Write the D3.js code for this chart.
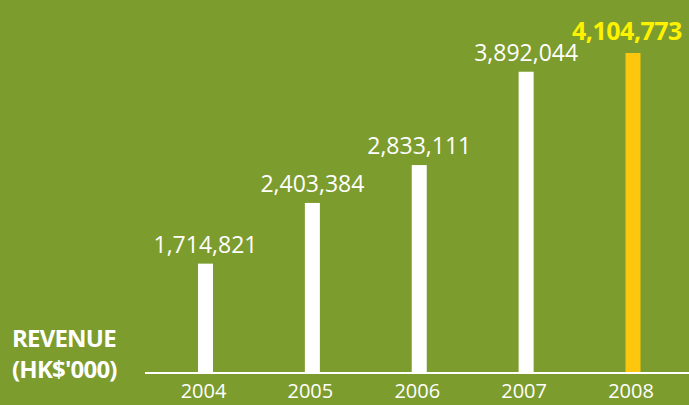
<!DOCTYPE html>
<html>
<head>
<meta charset="utf-8">
<script src="https://cdn.jsdelivr.net/npm/d3@7"></script>
<style>
  html, body { margin: 0; padding: 0; background: #7d9c2e; overflow: hidden; }
  svg { display: block; font-family: "Open Sans", "Noto Sans", sans-serif; }
</style>
</head>
<body>
<div id="chart"></div>
<script>
const years = ["2004", "2005", "2006", "2007", "2008"];
const revenue = [1714821, 2403384, 2833111, 3892044, 4104773];
const axisTitle = ["REVENUE", "(HK$'000)"];

const width = 689;
const height = 405;
const baseline = 373;

const svg = d3.select("#chart")
  .append("svg")
  .attr("width", width)
  .attr("height", height);

svg.append("rect")
  .attr("width", width)
  .attr("height", height)
  .attr("fill", "#7d9c2e");

const x = d3.scalePoint()
  .domain(years)
  .range([205.5, 633]);

// bars in the original do not start from zero, so the axis is offset
const y = d3.scaleLinear()
  .domain([474000, 4104773])
  .range([baseline, baseline - 320]);

const data = years.map((year, i) => ({ year, value: revenue[i], last: i === years.length - 1 }));
const barWidth = 15;

svg.append("g")
  .selectAll("rect")
  .data(data)
  .join("rect")
  .attr("x", (d) => x(d.year) - barWidth / 2)
  .attr("y", (d) => y(d.value))
  .attr("width", barWidth)
  .attr("height", (d) => baseline - y(d.value))
  .attr("fill", (d) => (d.last ? "#fcc70c" : "#ffffff"));

svg.append("line")
  .attr("x1", 145)
  .attr("x2", width)
  .attr("y1", baseline)
  .attr("y2", baseline)
  .attr("stroke", "#ffffff")
  .attr("stroke-width", 2);

svg.append("g")
  .selectAll("text")
  .data(data)
  .join("text")
  .attr("x", (d) => (d.last ? x(d.year) - 6 : x(d.year)))
  .attr("y", (d) => y(d.value) - (d.last ? 13 : 11))
  .attr("text-anchor", "middle")
  .attr("fill", (d) => (d.last ? "#fff200" : "#ffffff"))
  .attr("font-size", (d) => (d.last ? 25 : 23))
  .attr("font-weight", (d) => (d.last ? "bold" : "normal"))
  .attr("letter-spacing", (d) => (d.last ? -0.5 : 0))
  .text((d) => d3.format(",")(d.value));

svg.append("g")
  .selectAll("text")
  .data(years)
  .join("text")
  .attr("x", (d) => x(d) - 2)
  .attr("y", 398)
  .attr("text-anchor", "middle")
  .attr("fill", "#ffffff")
  .attr("font-size", 20)
  .text((d) => d);

svg.append("g")
  .selectAll("text")
  .data(axisTitle)
  .join("text")
  .attr("x", 12)
  .attr("y", (d, i) => 347 + i * 31)
  .attr("fill", "#ffffff")
  .attr("font-size", 24)
  .attr("font-weight", "bold")
  .attr("letter-spacing", -0.8)
  .text((d) => d);
</script>
</body>
</html>
